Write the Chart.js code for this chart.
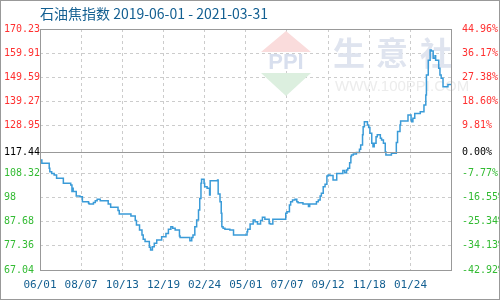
<!DOCTYPE html>
<html lang="zh">
<head>
<meta charset="UTF-8">
<script src="https://cdn.jsdelivr.net/npm/chart.js@4.4.0/dist/chart.umd.min.js"></script>
<title>石油焦指数</title>
<style>
  html, body { margin: 0; padding: 0; background: #fff; }
  #wrap { width: 500px; height: 300px; position: relative; }
</style>
</head>
<body>
<div id="wrap"><canvas id="myChart" width="500" height="300"></canvas></div>
<script>
// days since 2019-06-01, and index value at that day
const days = [0, 3, 4, 15, 16, 19, 23, 27, 31, 38, 40, 50, 52, 53, 54, 59, 65, 69, 72, 79,
  80, 87, 90, 93, 98, 103, 111, 115, 118, 127, 129, 135, 148, 149, 155, 157, 162, 166, 168, 171,
  174, 178, 180, 183, 186, 190, 193, 198, 200, 205, 209, 213, 216, 220, 223, 227, 228, 244, 247, 249,
  252, 255, 258, 260, 262, 263, 264, 267, 268, 272, 276, 277, 278, 289, 290, 291, 293, 295, 296, 298,
  301, 309, 312, 315, 317, 337, 338, 342, 347, 350, 354, 359, 362, 366, 370, 373, 375, 379, 381, 400,
  402, 406, 408, 411, 415, 418, 420, 428, 437, 439, 442, 450, 453, 456, 458, 461, 464, 467, 469, 472,
  477, 480, 483, 485, 493, 496, 499, 501, 504, 506, 507, 510, 515, 520, 522, 525, 526, 528, 530, 533,
  535, 537, 540, 542, 544, 547, 549, 554, 556, 559, 562, 563, 564, 572, 575, 580, 582, 586, 587, 589,
  599, 602, 604, 605, 607, 610, 613, 619, 621, 625, 628, 629, 632, 635, 637, 640, 643, 644, 647, 649,
  651, 653, 656, 658, 664, 666, 669];
const values = [117.44, 114.1, 112.7, 112.7, 110.6, 109.1, 108.4, 107.7, 106.3, 106.3, 104.2, 104.2, 103.4, 100.6, 102.0, 100.6, 98.7, 98.4, 96.3, 96.3,
  95.6, 95.3, 95.9, 96.7, 97.3, 96.7, 96.7, 95.3, 93.9, 93.9, 92.5, 91.0, 91.0, 90.2, 90.2, 88.2, 86.3, 84.2, 82.0, 80.2,
  79.2, 79.2, 76.8, 75.6, 77.0, 78.5, 79.9, 79.9, 81.3, 81.3, 82.7, 84.5, 85.6, 84.9, 84.2, 84.2, 81.6, 81.0, 79.6, 81.0,
  82.0, 85.6, 88.4, 92.7, 97.7, 104.2, 105.9, 105.9, 104.2, 102.7, 102.0, 99.1, 105.3, 105.3, 105.6, 99.6, 99.6, 96.3, 91.3, 85.6,
  84.9, 84.5, 84.2, 84.2, 82.0, 82.0, 83.4, 84.5, 86.7, 88.4, 87.7, 86.7, 88.2, 89.6, 88.8, 88.8, 87.0, 86.7, 88.8, 88.8,
  91.3, 92.0, 94.9, 96.3, 97.0, 97.3, 96.3, 95.8, 95.3, 94.2, 95.3, 95.3, 96.3, 97.0, 98.7, 99.9, 102.7, 103.8, 107.3, 107.7,
  107.5, 105.6, 105.6, 108.4, 108.4, 109.6, 108.7, 109.9, 110.6, 113.0, 115.6, 116.3, 116.7, 117.3, 118.7, 120.6, 124.9, 128.4, 130.5, 130.5,
  129.1, 128.1, 125.6, 121.3, 119.8, 121.3, 124.1, 124.9, 123.4, 122.7, 121.3, 117.7, 116.3, 116.3, 117.0, 117.0, 121.6, 126.3, 129.1, 130.8,
  130.8, 133.4, 133.4, 131.3, 130.5, 132.0, 134.1, 134.1, 134.8, 134.8, 137.7, 142.0, 150.5, 156.9, 161.2, 160.8, 157.7, 158.8, 156.9, 156.9,
  153.4, 150.5, 149.1, 145.5, 145.5, 146.5, 146.5];

const xTickDays = [0, 67, 134, 201, 268, 335, 402, 469, 536, 603];
const xTickLabels = ['06/01', '08/07', '10/13', '12/19', '02/24', '05/01', '07/07', '09/12', '11/18', '01/24'];
const yTickValues = [67.04, 77.36, 87.68, 98, 108.32, 117.44, 128.95, 139.27, 149.59, 159.91, 170.23];
const yTickLabels = ['67.04', '77.36', '87.68', '98', '108.32', '117.44', '128.95', '139.27', '149.59', '159.91', '170.23'];
const pctLabels = ['-42.92%', '-34.13%', '-25.34%', '-16.55%', '-7.77%', '0.00%', '9.81%', '18.60%', '27.38%', '36.17%', '44.96%'];
const baseValue = 117.44;
const titleText = '石油焦指数 2019-06-01 - 2021-03-31';

const RED = '#ff3030', GREEN = '#33bb33', BLUE = '#135f91';
const monoFont = { family: 'DejaVu Sans Mono', size: 10 };

function tickColor(ctx) {
  const v = ctx.tick.value;
  if (Math.abs(v - baseValue) < 0.001) return '#000';
  return v > baseValue ? RED : GREEN;
}

const decor = {
  id: 'decor',
  beforeDatasetsDraw(chart) {
    const ctx = chart.ctx;
    ctx.save();
    // watermark logo
    ctx.fillStyle = '#fadcdc';
    ctx.beginPath(); ctx.moveTo(286, 31); ctx.lineTo(311, 52); ctx.lineTo(261, 52); ctx.closePath(); ctx.fill();
    ctx.fillStyle = '#dcefdf';
    ctx.beginPath(); ctx.moveTo(261, 73); ctx.lineTo(311, 73); ctx.lineTo(286, 96); ctx.closePath(); ctx.fill();
    ctx.fillStyle = '#d8dfee';
    ctx.font = 'bold 22px "Liberation Sans"';
    ctx.textBaseline = 'middle';
    ctx.textAlign = 'center';
    ctx.fillText('PPI', 286, 63);
    ctx.font = 'bold 32px "Noto Sans CJK SC"';
    ctx.fillStyle = '#dfe4ef';
    ctx.fillText('生', 349, 53);
    ctx.fillText('意', 392, 53);
    ctx.fillText('社', 436, 53);
    ctx.font = '15px "Liberation Sans"';
    ctx.fillStyle = '#ececec';
    ctx.textAlign = 'left';
    ctx.fillText('WWW.100PPI.COM', 335, 87);
    ctx.restore();
  },
  afterDatasetsDraw(chart) {
    const { ctx, chartArea: a, scales } = chart;
    ctx.save();
    ctx.strokeStyle = '#999';
    ctx.lineWidth = 1;
    const by = Math.round(scales.y.getPixelForValue(baseValue)) + 0.5;
    ctx.beginPath(); ctx.moveTo(a.left, by); ctx.lineTo(a.right, by); ctx.stroke();
    ctx.strokeRect(Math.round(a.left) + 0.5, Math.round(a.top) + 0.5, Math.round(a.right - a.left), Math.round(a.bottom - a.top));
    ctx.restore();
  },
  afterDraw(chart) {
    const ctx = chart.ctx;
    ctx.save();
    ctx.font = '14px "Noto Sans CJK SC"';
    ctx.fillStyle = BLUE;
    ctx.textBaseline = 'middle';
    ctx.fillText(titleText, 40, 14);
    ctx.strokeStyle = '#999';
    ctx.strokeRect(0.5, 0.5, chart.width - 1, chart.height - 1);
    ctx.restore();
  }
};

new Chart(document.getElementById('myChart'), {
  type: 'line',
  data: {
    datasets: [{
      data: days.map((d, i) => ({ x: d, y: values[i] })),
      borderColor: '#3a9bd8',
      borderWidth: 1.5,
      pointRadius: 0,
      stepped: 'after',
      fill: false
    }]
  },
  plugins: [decor],
  options: {
    responsive: false,
    animation: false,
    layout: { padding: { left: 4, top: 29, right: 0, bottom: 0 } },
    plugins: { legend: { display: false }, tooltip: { enabled: false } },
    scales: {
      x: {
        type: 'linear',
        min: 0, max: 669,
        afterBuildTicks: (s) => { s.ticks = xTickDays.map(v => ({ value: v })); },
        afterFit: (s) => { s.height = 30; },
        ticks: {
          callback: (v) => xTickLabels[xTickDays.indexOf(v)],
          color: BLUE, font: { family: 'DejaVu Sans Mono', size: 11 },
          maxRotation: 0, padding: 9, autoSkip: false
        },
        grid: { color: '#cccccc', drawTicks: false },
        border: { display: false, dash: [3, 3] }
      },
      y: {
        min: 67.04, max: 170.23,
        afterBuildTicks: (s) => { s.ticks = yTickValues.map(v => ({ value: v })); },
        afterFit: (s) => { s.width = 36; },
        ticks: {
          callback: (v) => yTickLabels[yTickValues.indexOf(v)],
          color: tickColor, font: monoFont, crossAlign: 'far', padding: 0, autoSkip: false
        },
        grid: { color: '#cccccc', drawTicks: false },
        border: { display: false, dash: [3, 3] }
      },
      y2: {
        position: 'right',
        min: 67.04, max: 170.23,
        afterBuildTicks: (s) => { s.ticks = yTickValues.map(v => ({ value: v })); },
        afterFit: (s) => { s.width = 49; },
        ticks: {
          callback: (v) => pctLabels[yTickValues.indexOf(v)],
          color: tickColor, font: monoFont, padding: 3, autoSkip: false
        },
        grid: { display: false },
        border: { display: false }
      }
    }
  }
});
</script>
</body>
</html>
